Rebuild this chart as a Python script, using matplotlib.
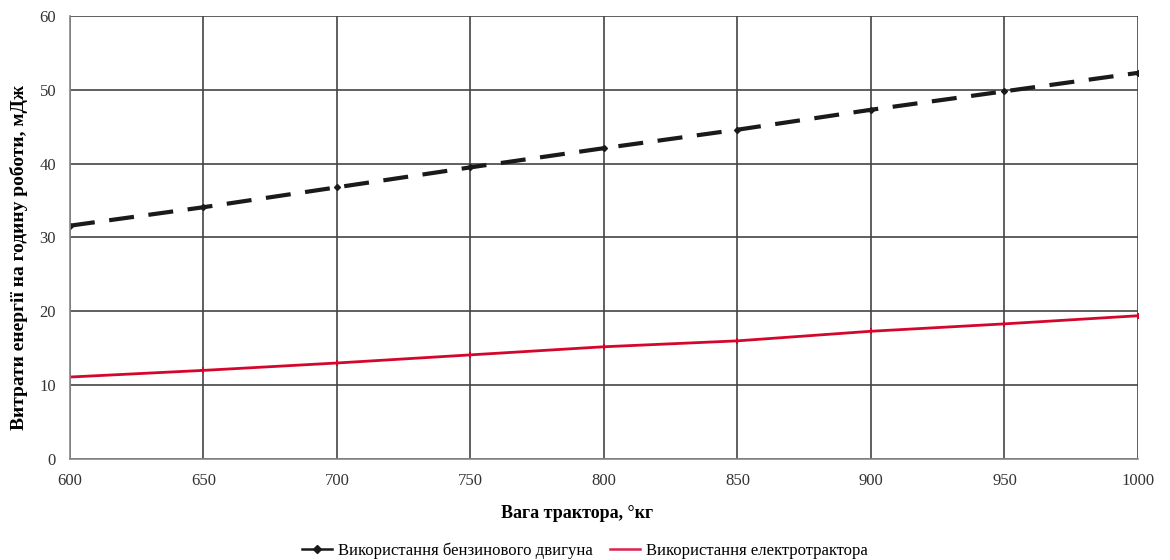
import matplotlib
matplotlib.use("Agg")
import matplotlib.pyplot as plt
from matplotlib.lines import Line2D

# Tractor mass, kg
mass = [600, 650, 700, 750, 800, 850, 900, 950, 1000]
# Energy consumption per hour of work, MJ
petrol_engine = [31.6, 34.1, 36.8, 39.5, 42.1, 44.6, 47.3, 49.8, 52.3]
electric_tractor = [11.1, 12.0, 13.0, 14.1, 15.2, 16.0, 17.3, 18.3, 19.4]

x_ticks = [600, 650, 700, 750, 800, 850, 900, 950, 1000]
y_ticks = [0, 10, 20, 30, 40, 50, 60]

petrol_label = 'Використання бензинового двигуна'
electric_label = 'Використання електротрактора'

plt.rcParams['font.family'] = ['Liberation Serif', 'DejaVu Serif']

fig = plt.figure(figsize=(11.7, 5.6), dpi=100)
ax = fig.add_axes([0.0598, 0.1804, 0.9128, 0.791])

ax.plot(mass, petrol_engine, color='#1a1a1a', lw=3, linestyle=(0, (6, 3.5)),
        marker='D', markersize=3)
ax.plot(mass, electric_tractor, color='#d4062c', lw=2, marker='P', markersize=5,
        markeredgewidth=0)

ax.set_xlim(600, 1000)
ax.set_ylim(0, 60)
ax.set_xticks(x_ticks)
ax.set_yticks(y_ticks)
ax.grid(True, color='#444444', lw=1.2)
ax.set_axisbelow(True)
for side in ['top', 'right']:
    ax.spines[side].set_visible(False)
for side in ['left', 'bottom']:
    ax.spines[side].set_color('#888888')
    ax.spines[side].set_linewidth(1.2)
ax.tick_params(length=0, labelsize=12, colors='#333333', pad=10)

ax.set_xlabel('Вага трактора, °кг', fontsize=13, fontweight='bold')
ax.xaxis.set_label_coords(0.475, -0.105)
ax.set_ylabel('Витрати енергії на годину роботи, мДж', fontsize=14,
              fontweight='bold')
ax.yaxis.set_label_coords(-0.039, 0.454)

handles = [
    Line2D([], [], color='#1a1a1a', lw=1.8, marker='D', markersize=4),
    Line2D([], [], color='#e0204a', lw=1.8),
]
fig.legend(handles, [petrol_label, electric_label], loc='lower center',
           bbox_to_anchor=(0.5, -0.025), ncol=2, frameon=False,
           fontsize=12, handlelength=1.8, handletextpad=0.4, columnspacing=1.0)

fig.savefig('out.png', dpi=100, facecolor='white')
